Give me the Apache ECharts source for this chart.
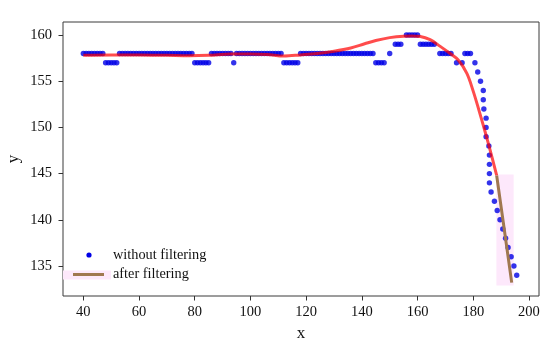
<!DOCTYPE html>
<html><head><meta charset="utf-8">
<script src="https://cdn.jsdelivr.net/npm/echarts@6/dist/echarts.min.js"></script>
<style>html,body{margin:0;padding:0;background:#fff}#c{width:550px;height:346px}</style>
</head><body><div id="c"></div>
<script>
// raw samples (without filtering)
const rawX = [
40,41,42,43,44,45,46,47,
48,49,50,51,52,
53,54,55,56,57,58,59,60,61,62,63,64,65,66,67,68,69,70,71,72,73,74,75,76,77,78,79,
80,81,82,83,84,85,
86,87,88,89,90,91,92,93,
94,
95,96,97,98,99,100,101,102,103,104,105,106,107,108,109,110,111,
112,113,114,115,116,117,
118,119,120,121,122,123,124,125,126,127,128,129,130,131,132,133,134,135,136,137,138,139,140,141,142,143,144,
145,146,147,148,
150,
152,153,154,
156,157,158,159,160,
161,162,163,164,165,166,
168,169,170,171,172,
174,176,
177,178,179,
180.6,181.6,182.6,183.6,183.6,183.8,184.6,184.6,184.6,185.6,185.8,185.8,185.8,185.8,186.4,187.6,188.6,189.6,190.6,191.6,192.5,193.6,194.6,195.6
];
const rawY = [
158,158,158,158,158,158,158,158,
157,157,157,157,157,
158,158,158,158,158,158,158,158,158,158,158,158,158,158,158,158,158,158,158,158,158,158,158,158,158,158,158,
157,157,157,157,157,157,
158,158,158,158,158,158,158,158,
157,
158,158,158,158,158,158,158,158,158,158,158,158,158,158,158,158,158,
157,157,157,157,157,157,
158,158,158,158,158,158,158,158,158,158,158,158,158,158,158,158,158,158,158,158,158,158,158,158,158,158,158,
157,157,157,157,
158,
159,159,159,
160,160,160,160,160,
159,159,159,159,159,159,
158,158,158,158,158,
157,157,
158,158,158,
157,156,155,154,153,152,151,150,149,148,147,146,145,144,143,142,141,140,139,138,137,136,135,134
];
// filtered curve
const filtX = [40,50,60,70,78,85,93,100,106,112,118,124,130,136,141,145,150,155,158,161,164.5,168,171.7,174.6,177.7,180,182,184,186,188.4];
const filtY = [157.8,157.85,157.85,157.8,157.75,157.8,157.95,157.95,157.9,157.72,157.85,158.0,158.25,158.6,159.05,159.4,159.72,159.88,159.9,159.85,159.5,158.8,158.0,157.3,155.85,153.9,151.9,149.8,147.6,144.8];
// final filtered segment
const tailX = [188.4,191.0,193.8];
const tailY = [144.8,139.25,133.2];
// highlighted region
const boxX = [188.3,194.5];
const boxY = [132.9,144.9];
const xTicks = [40,60,80,100,120,140,160,180,200];
const yTicks = [135,140,145,150,155,160];

const FONT = 'Liberation Serif';
const chart = echarts.init(document.getElementById('c'), null, {renderer:'canvas'});
const zip = (a,b) => a.map((v,i)=>[v,b[i]]);
chart.setOption({
  animation:false,
  backgroundColor:'#fff',
  grid:{left:63,top:22,width:476,height:274,containLabel:false,outerBoundsMode:'none',show:true,borderColor:'#3a3a3a',borderWidth:1,backgroundColor:'transparent'},
  xAxis:{type:'value',min:32.7,max:203.6,
    name:'x',nameLocation:'middle',nameGap:26,nameTextStyle:{fontFamily:FONT,fontSize:17,color:'#111'},
    axisLine:{show:false},splitLine:{show:false},
    axisTick:{show:true,inside:false,length:4.5,customValues:xTicks,lineStyle:{color:'#333',width:1}},
    axisLabel:{customValues:xTicks,fontFamily:FONT,fontSize:14.5,color:'#111',margin:9}},
  yAxis:{type:'value',min:131.75,max:161.41,
    name:'y',nameLocation:'middle',nameGap:41,nameMoveOverlap:false,nameRotate:90,nameTextStyle:{fontFamily:FONT,fontSize:17,color:'#111'},
    axisLine:{show:false},splitLine:{show:false},
    axisTick:{show:true,inside:false,length:4.5,customValues:yTicks,lineStyle:{color:'#333',width:1}},
    axisLabel:{customValues:yTicks,fontFamily:FONT,fontSize:14.5,color:'#111',margin:11}},
  series:[
    {name:'after filtering (region)',type:'line',data:zip(tailX,tailY),symbol:'none',silent:true,
     lineStyle:{width:0},z:1,
     markArea:{silent:true,itemStyle:{color:'#fde8fb'},data:[[{xAxis:boxX[0],yAxis:boxY[0]},{xAxis:boxX[1],yAxis:boxY[1]}]]}},
    {name:'without filtering',type:'scatter',data:zip(rawX,rawY),symbol:'circle',symbolSize:5.4,
     itemStyle:{color:'#0000e6'},z:3},
    {name:'after filtering',type:'line',data:zip(filtX,filtY),symbol:'none',smooth:0.35,
     lineStyle:{color:'#ff0000',opacity:0.7,width:3},z:4},
    {name:'after filtering end',type:'line',data:zip(tailX,tailY),symbol:'none',
     lineStyle:{color:'#a07850',width:3},z:5}
  ],
  graphic:[
    {type:'rect',shape:{x:63,y:270.5,width:48,height:9},style:{fill:'#fde8fb'},z:10},
    {type:'line',shape:{x1:73,y1:274.5,x2:104,y2:274.5},style:{stroke:'#a07850',lineWidth:3},z:11},
    {type:'circle',shape:{cx:89,cy:255,r:2.6},style:{fill:'#0000e6'},z:11},
    {type:'text',x:113,y:255,style:{text:'without filtering',font:'14.3px "Liberation Serif"',fill:'#111',verticalAlign:'middle'},z:11},
    {type:'text',x:113,y:274.5,style:{text:'after filtering',font:'14.3px "Liberation Serif"',fill:'#111',verticalAlign:'middle'},z:11}
  ]
});
</script>
</body></html>
